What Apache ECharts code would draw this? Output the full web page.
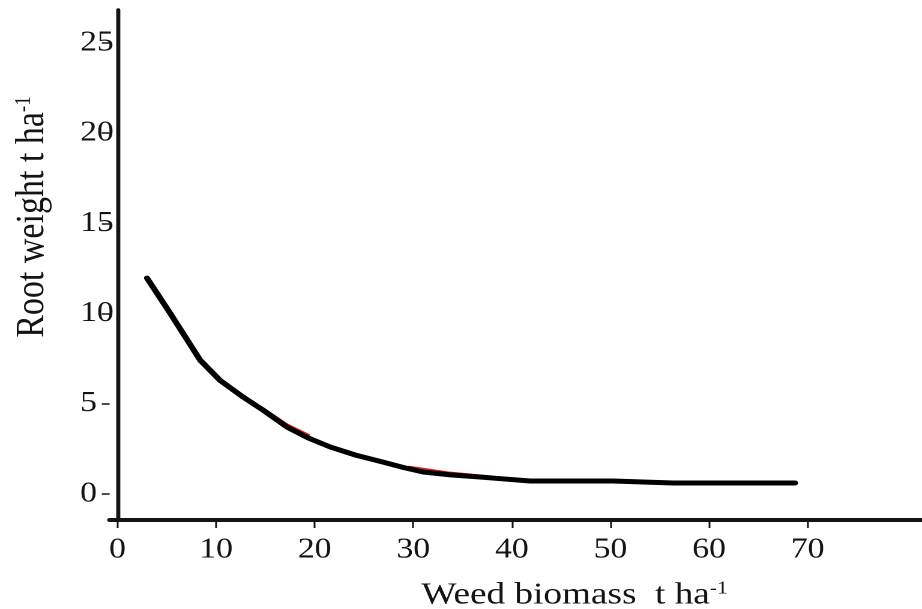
<!DOCTYPE html>
<html>
<head>
<meta charset="utf-8">
<script src="https://cdn.jsdelivr.net/npm/echarts@6/dist/echarts.min.js"></script>
<style>
  html, body { margin: 0; padding: 0; background: #fff; overflow: hidden; }
  #wrap { width: 922px; height: 609px; overflow: hidden; }
  /* the figure is laid out on a narrower canvas and widened, as in the printed plot */
  #chart { width: 768px; height: 609px; transform: scaleX(1.2005); transform-origin: 0 0; }
</style>
</head>
<body>
<div id="wrap"><div id="chart"></div></div>
<script>
// Weed biomass (t/ha) vs root weight (t/ha)
const xTicks = [0, 10, 20, 30, 40, 50, 60, 70];
const yTicks = [0, 5, 10, 15, 20, 25];

// fitted response curve
const fitX = [2.99, 5.33, 8.37, 10.4, 12.73, 14.79, 17.20, 19.3, 21.56, 24.2, 26.94, 29.0, 31.00, 33.8, 36.78, 41.85, 50.27, 56.36, 68.73];
const fitY = [11.97, 10.03, 7.43, 6.30, 5.38, 4.64, 3.71, 3.12, 2.61, 2.15, 1.77, 1.47, 1.22, 1.06, 0.94, 0.72, 0.72, 0.61, 0.61];

// observed trace, mostly hidden beneath the fit
const obsX = [14.5, 17.2, 19.5, 24.0, 29.5, 33.5, 38.0];
const obsY = [4.86, 3.86, 3.25, null, 1.52, 1.20, 0.97];

const serif = '"Liberation Serif", "Times New Roman", Times, serif';
const ink = '#141414';

const fitData = fitX.map((x, i) => [x, fitY[i]]);
const obsData = obsX.map((x, i) => [x, obsY[i]]);

const chart = echarts.init(document.getElementById('chart'), null, { renderer: 'canvas', devicePixelRatio: 2 });
chart.setOption({
  animation: false,
  backgroundColor: '#fff',
  textStyle: { fontFamily: serif },
  grid: { left: 91.3, right: 0, top: 10, bottom: 89, containLabel: false, outerBoundsMode: 'none' },
  xAxis: {
    type: 'value',
    min: -0.8,
    max: 81.6,
    splitLine: { show: false },
    axisLine: { onZero: false, lineStyle: { color: ink, width: 4 } },
    axisTick: { show: true, customValues: xTicks, length: 8, lineStyle: { color: ink, width: 1.5 } },
    axisLabel: {
      customValues: xTicks,
      margin: 16,
      color: ink,
      fontFamily: serif,
      fontSize: 28
    },
    name: '{a|Weed biomass  t ha}{b|-1}',
    nameLocation: 'middle',
    nameGap: 60,
    nameTextStyle: {
      fontFamily: serif,
      padding: [0, 0, 0, 98],
      rich: {
        a: { fontFamily: serif, fontSize: 31, color: ink },
        b: { fontFamily: serif, fontSize: 18, color: ink, verticalAlign: 'top' }
      }
    }
  },
  yAxis: [
    {
      type: 'value',
      min: -1.44,
      max: 26.83,
      splitLine: { show: false },
      axisLine: { show: true, onZero: true, lineStyle: { color: ink, width: 3.4 } },
      axisTick: { show: false },
      axisLabel: { show: false },
      name: '{a|Root weight t ha}{b|-1}',
      nameLocation: 'middle',
      nameGap: 47,
      nameTextStyle: {
        fontFamily: serif,
        padding: [0, 0, 0, 96],
        rich: {
          a: { fontFamily: serif, fontSize: 34, color: ink },
          b: { fontFamily: serif, fontSize: 19, color: ink, verticalAlign: 'top' }
        }
      }
    },
    {
      type: 'value',
      position: 'left',
      min: -1.44,
      max: 26.83,
      splitLine: { show: false },
      axisLine: { show: false, onZero: false },
      axisTick: { show: true, customValues: yTicks, length: 6.5, lineStyle: { color: ink, width: 1.5 } },
      axisLabel: {
        customValues: yTicks,
        align: 'left',
        margin: 24.6,
        padding: [7, 0, 0, 0],
        color: ink,
        fontFamily: serif,
        fontSize: 28
      }
    }
  ],
  series: [
    {
      name: 'observed',
      type: 'line',
      data: obsData,
      yAxisIndex: 0,
      showSymbol: false,
      connectNulls: false,
      z: 1,
      lineStyle: { color: '#e0201c', width: 2 }
    },
    {
      name: 'fit',
      type: 'line',
      data: fitData,
      yAxisIndex: 0,
      showSymbol: false,
      smooth: false,
      z: 2,
      lineStyle: { color: '#000', width: 5, cap: 'round', join: 'round' }
    }
  ]
});
</script>
</body>
</html>
